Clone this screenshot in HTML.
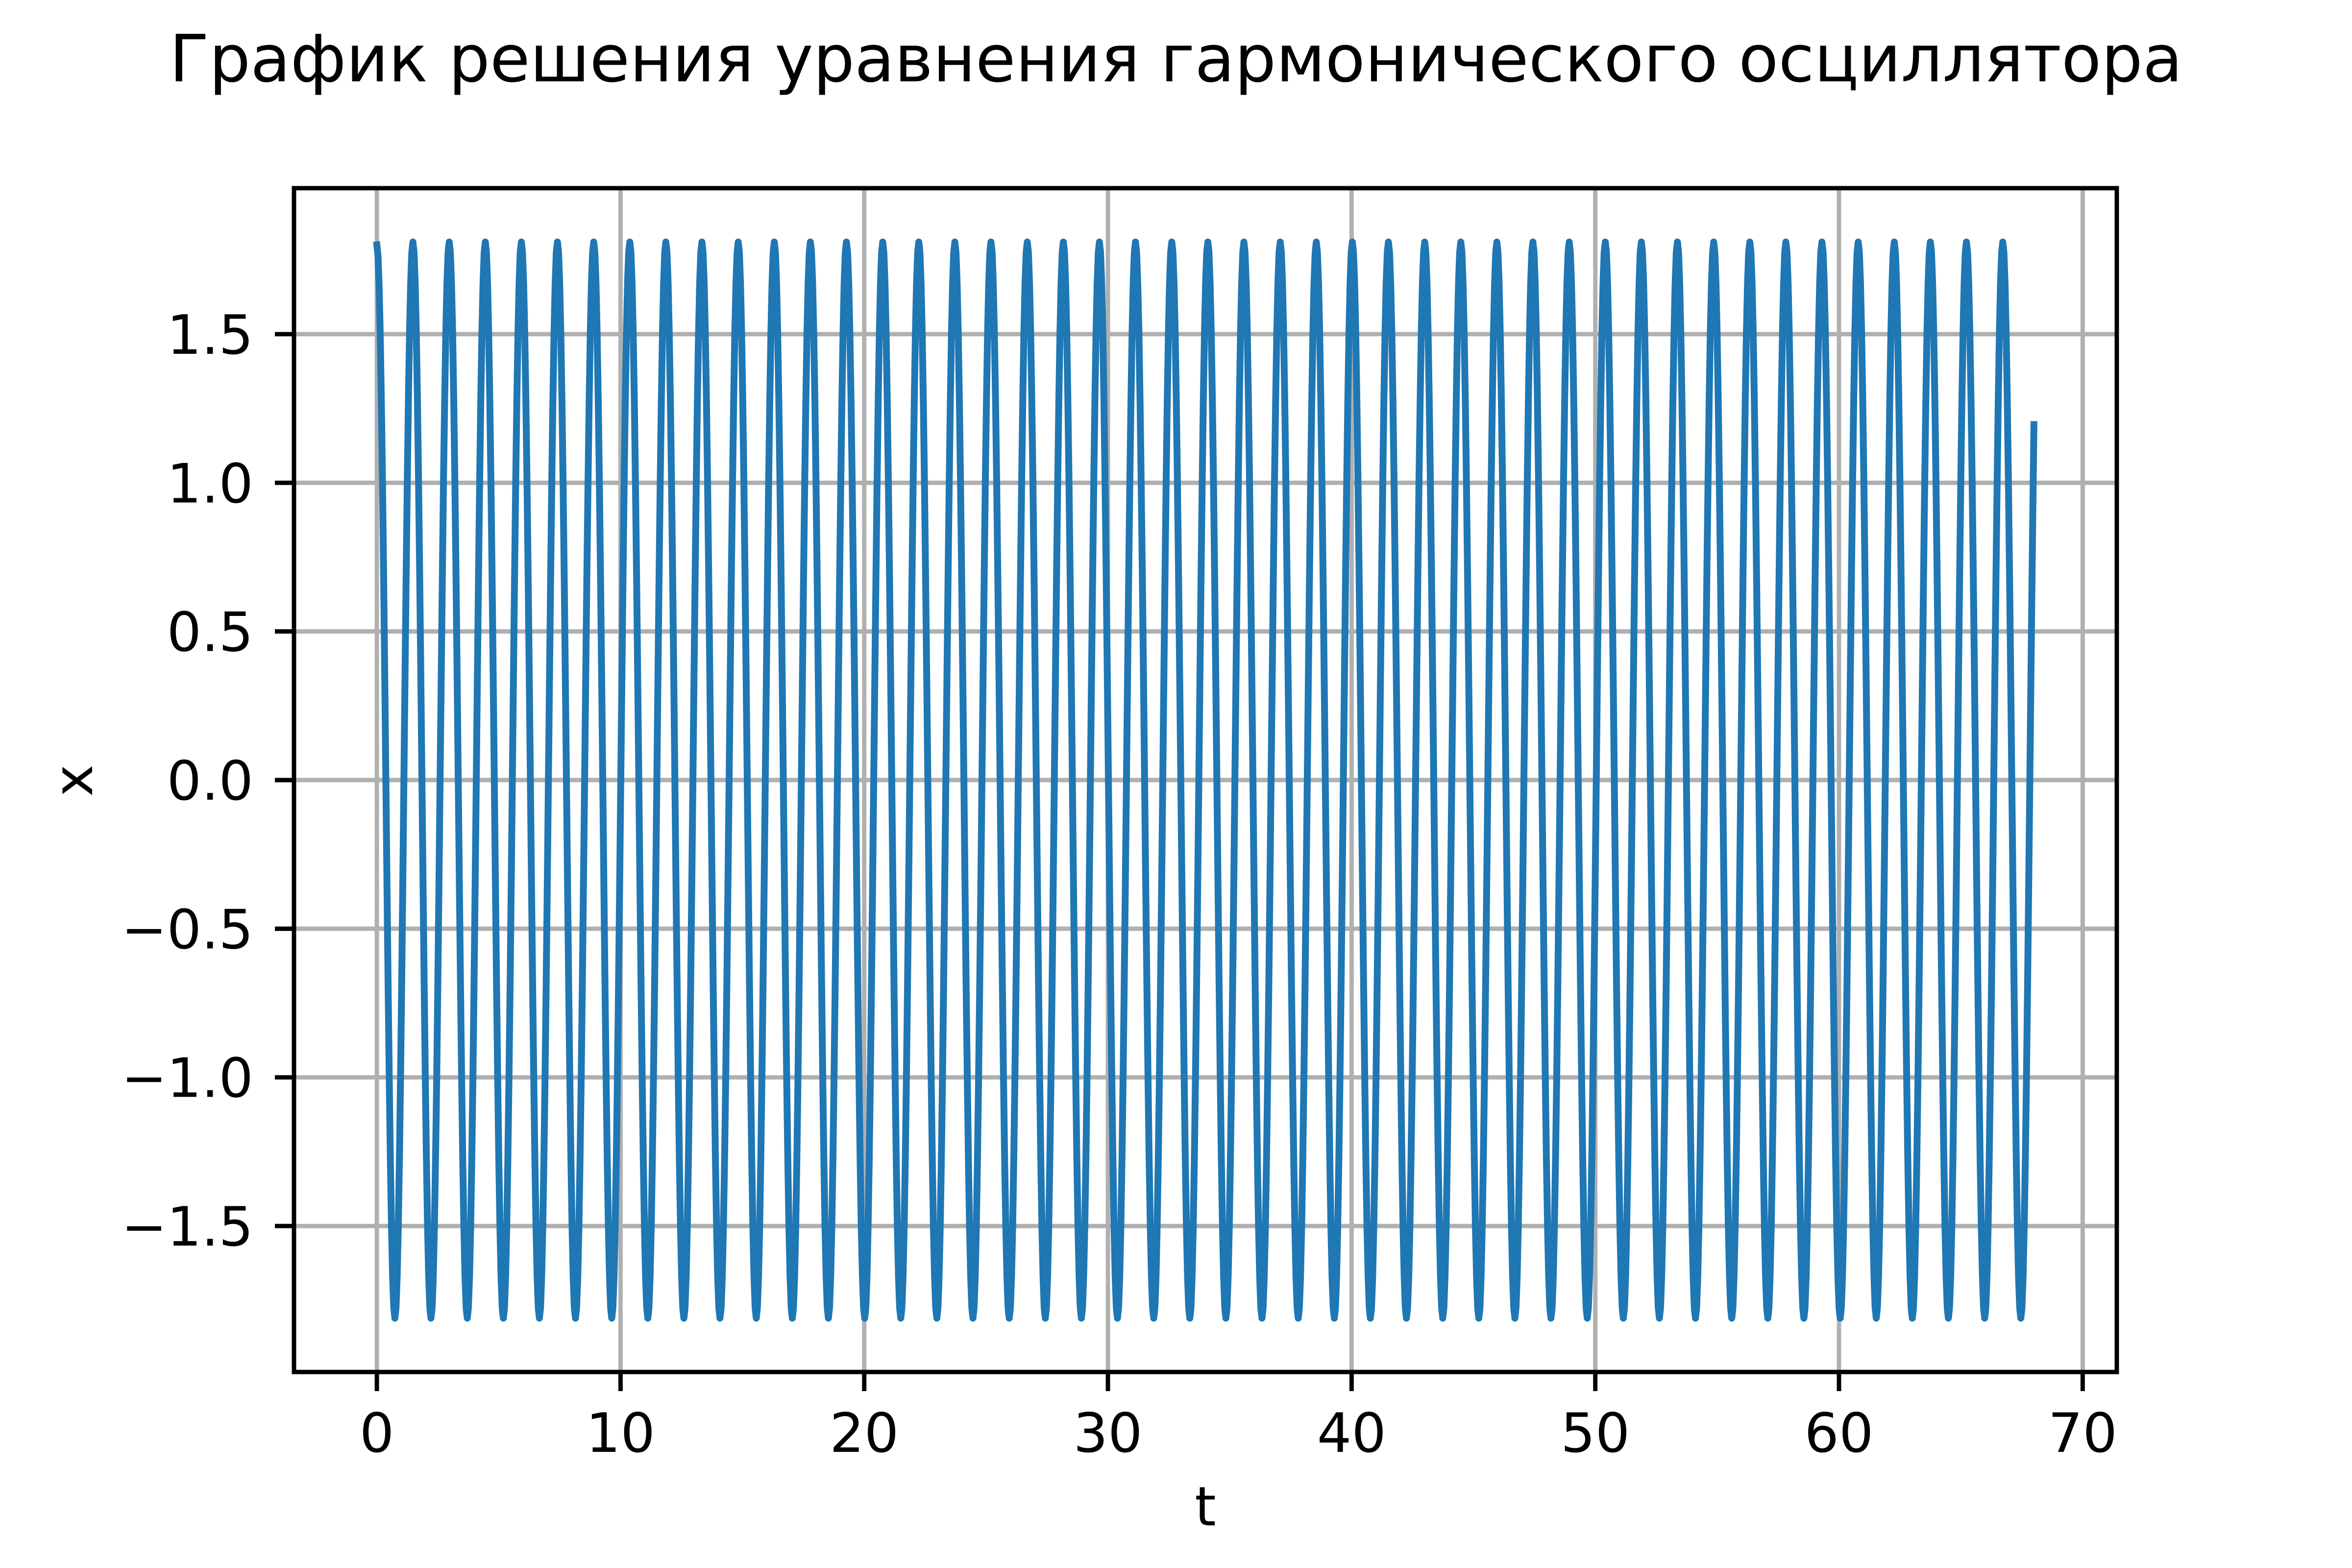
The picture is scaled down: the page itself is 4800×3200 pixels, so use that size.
<!DOCTYPE html>
<html>
<head>
<meta charset="utf-8">
<style>
  html, body { margin: 0; padding: 0; background: #ffffff; }
  svg { display: block; }
  text { font-family: "DejaVu Sans", "Liberation Sans", sans-serif; fill: #000; }
</style>
</head>
<body>
<svg id="chart" xmlns="http://www.w3.org/2000/svg" width="4800" height="3200" viewBox="0 0 4800 3200">
  <rect x="0" y="0" width="4800" height="3200" fill="#ffffff"/>
  <text x="2400" y="166" font-size="133" text-anchor="middle">График решения уравнения гармонического осциллятора</text>
  <g id="grid"></g>
  <g id="series"></g>
  <rect x="600" y="384" width="3720" height="2416" fill="none" stroke="#000" stroke-width="8.9"/>
  <g id="ticks"></g>
  <text x="2460" y="3113" font-size="111" text-anchor="middle">t</text>
  <text x="0" y="0" font-size="111" text-anchor="middle" transform="translate(188,1593) rotate(-90)">x</text>
</svg>
<script>
// ---- data ----
const xTicks = [0, 10, 20, 30, 40, 50, 60, 70];
const xTickLabels = ["0", "10", "20", "30", "40", "50", "60", "70"];
const yTicks = [-1.5, -1.0, -0.5, 0.0, 0.5, 1.0, 1.5];
const yTickLabels = ["\u22121.5", "\u22121.0", "\u22120.5", "0.0", "0.5", "1.0", "1.5"];
// extrema (crests and troughs) of x(t)
const extremaT = [0, 0.74, 1.48, 2.22, 2.97, 3.71, 4.45, 5.19, 5.93, 6.67, 7.41, 8.15, 8.90, 9.64, 10.38, 11.12, 11.86, 12.60, 13.34, 14.08, 14.83, 15.57, 16.31, 17.05, 17.79, 18.53, 19.27, 20.02, 20.76, 21.50, 22.24, 22.98, 23.72, 24.46, 25.20, 25.95, 26.69, 27.43, 28.17, 28.91, 29.65, 30.39, 31.13, 31.88, 32.62, 33.36, 34.10, 34.84, 35.58, 36.32, 37.07, 37.81, 38.55, 39.29, 40.03, 40.77, 41.51, 42.25, 43.00, 43.74, 44.48, 45.22, 45.96, 46.70, 47.44, 48.18, 48.93, 49.67, 50.41, 51.15, 51.89, 52.63, 53.37, 54.11, 54.86, 55.60, 56.34, 57.08, 57.82, 58.56, 59.30, 60.05, 60.79, 61.53, 62.27, 63.01, 63.75, 64.49, 65.23, 65.98, 66.72, 67.46, 68.20];
const extremaX = [1.80, -1.81, 1.81, -1.81, 1.81, -1.81, 1.81, -1.81, 1.81, -1.81, 1.81, -1.81, 1.81, -1.81, 1.81, -1.81, 1.81, -1.81, 1.81, -1.81, 1.81, -1.81, 1.81, -1.81, 1.81, -1.81, 1.81, -1.81, 1.81, -1.81, 1.81, -1.81, 1.81, -1.81, 1.81, -1.81, 1.81, -1.81, 1.81, -1.81, 1.81, -1.81, 1.81, -1.81, 1.81, -1.81, 1.81, -1.81, 1.81, -1.81, 1.81, -1.81, 1.81, -1.81, 1.81, -1.81, 1.81, -1.81, 1.81, -1.81, 1.81, -1.81, 1.81, -1.81, 1.81, -1.81, 1.81, -1.81, 1.81, -1.81, 1.81, -1.81, 1.81, -1.81, 1.81, -1.81, 1.81, -1.81, 1.81, -1.81, 1.81, -1.81, 1.81, -1.81, 1.81, -1.81, 1.81, -1.81, 1.81, -1.81, 1.81, -1.81, 1.81];
const tEnd = 68;
const xDomain = [-3.4, 71.4];
const yDomain = [-1.991, 1.991];

// ---- axes ----
const AX = {left: 600, right: 4320, top: 384, bottom: 2800};
function sx(v) { return AX.left + (v - xDomain[0]) / (xDomain[1] - xDomain[0]) * (AX.right - AX.left); }
function sy(v) { return AX.bottom - (v - yDomain[0]) / (yDomain[1] - yDomain[0]) * (AX.bottom - AX.top); }

const NS = "http://www.w3.org/2000/svg";
const grid = document.getElementById('grid');
const ticks = document.getElementById('ticks');
const series = document.getElementById('series');

xTicks.forEach(function (v, i) {
  const X = sx(v);
  const g = document.createElementNS(NS, 'line');
  g.setAttribute('x1', X); g.setAttribute('x2', X);
  g.setAttribute('y1', AX.top); g.setAttribute('y2', AX.bottom);
  g.setAttribute('stroke', '#b0b0b0'); g.setAttribute('stroke-width', '8.9');
  
  
  grid.appendChild(g);
  const t = document.createElementNS(NS, 'line');
  t.setAttribute('x1', X); t.setAttribute('x2', X);
  t.setAttribute('y1', AX.bottom); t.setAttribute('y2', AX.bottom + 39);
  t.setAttribute('stroke', '#000'); t.setAttribute('stroke-width', '8.9');
  
  
  ticks.appendChild(t);
  const l = document.createElementNS(NS, 'text');
  l.setAttribute('x', X); l.setAttribute('y', 2963);
  l.setAttribute('font-size', '111'); l.setAttribute('text-anchor', 'middle');
  l.textContent = xTickLabels[i];
  
  
  ticks.appendChild(l);
});

yTicks.forEach(function (v, i) {
  const Y = sy(v);
  const g = document.createElementNS(NS, 'line');
  g.setAttribute('x1', AX.left); g.setAttribute('x2', AX.right);
  g.setAttribute('y1', Y); g.setAttribute('y2', Y);
  g.setAttribute('stroke', '#b0b0b0'); g.setAttribute('stroke-width', '8.9');
  
  
  grid.appendChild(g);
  const t = document.createElementNS(NS, 'line');
  t.setAttribute('x1', AX.left - 39); t.setAttribute('x2', AX.left);
  t.setAttribute('y1', Y); t.setAttribute('y2', Y);
  t.setAttribute('stroke', '#000'); t.setAttribute('stroke-width', '8.9');
  
  
  ticks.appendChild(t);
  const l = document.createElementNS(NS, 'text');
  l.setAttribute('x', 517); l.setAttribute('y', Y + 40);
  l.setAttribute('font-size', '111'); l.setAttribute('text-anchor', 'end');
  l.textContent = yTickLabels[i];
  
  
  ticks.appendChild(l);
});

// ---- series: smooth half-cosine segments between extrema ----
let d = '';
for (let i = 0; i < extremaT.length - 1; i++) {
  const t0 = extremaT[i], t1 = extremaT[i + 1];
  const x0 = extremaX[i], x1 = extremaX[i + 1];
  if (t0 >= tEnd) break;
  const steps = 16;
  for (let k = (i === 0 ? 0 : 1); k <= steps; k++) {
    const f = k / steps;
    let t = t0 + (t1 - t0) * f;
    let ff = f;
    if (t > tEnd) { t = tEnd; ff = (tEnd - t0) / (t1 - t0); }
    const w = (1 - Math.cos(Math.PI * ff)) / 2;
    const x = x0 + (x1 - x0) * w;
    d += (d === '' ? 'M' : 'L') + sx(t).toFixed(1) + ',' + sy(x).toFixed(1);
    if (t >= tEnd) break;
  }
}
const path = document.createElementNS(NS, 'path');
path.setAttribute('d', d);
path.setAttribute('fill', 'none');
path.setAttribute('stroke', '#1f77b4');
path.setAttribute('stroke-width', '14');
path.setAttribute('stroke-linejoin', 'round');
path.setAttribute('stroke-linecap', 'square');


series.appendChild(path);
</script>
</body>
</html>
